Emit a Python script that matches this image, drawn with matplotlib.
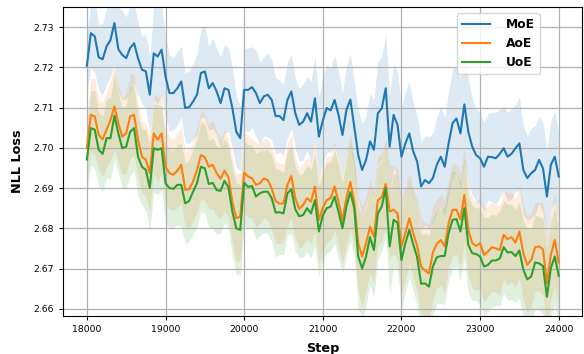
import numpy as np
import matplotlib
matplotlib.use('Agg')
import matplotlib.pyplot as plt

'''
NLL loss vs training step for MoE / AoE / UoE, mean with shaded spread
'''

steps = np.arange(18000, 24001, 50)

moe = [2.7204, 2.7285, 2.7277, 2.7225, 2.7220, 2.7252, 2.7268, 2.7310, 2.7245, 2.7231,
       2.7223, 2.7248, 2.7260, 2.7223, 2.7194, 2.7190, 2.7132, 2.7235, 2.7227, 2.7244,
       2.7177, 2.7136, 2.7136, 2.7148, 2.7165, 2.7099, 2.7101, 2.7115, 2.7132, 2.7186,
       2.7190, 2.7148, 2.7161, 2.7140, 2.7111, 2.7148, 2.7144, 2.7099, 2.7040, 2.7024,
       2.7144, 2.7144, 2.7151, 2.7136, 2.7111, 2.7128, 2.7132, 2.7119, 2.7079, 2.7079,
       2.7069, 2.7119, 2.7140, 2.7086, 2.7057, 2.7065, 2.7086, 2.7065, 2.7123, 2.7028,
       2.7068, 2.7099, 2.7093, 2.7119, 2.7082, 2.7032, 2.7094, 2.7120, 2.7053, 2.6982,
       2.6945, 2.6970, 2.7016, 2.6995, 2.7086, 2.7098, 2.7148, 2.7003, 2.7082, 2.7057,
       2.6978, 2.7011, 2.7036, 2.6991, 2.6966, 2.6904, 2.6920, 2.6912, 2.6925, 2.6958,
       2.6978, 2.6953, 2.7011, 2.7061, 2.7073, 2.7036, 2.7108, 2.7040, 2.7003, 2.6982,
       2.6974, 2.6953, 2.6978, 2.6977, 2.6974, 2.6985, 2.6999, 2.6978, 2.6985, 2.6999,
       2.7011, 2.6945, 2.6925, 2.6937, 2.6945, 2.6970, 2.6949, 2.6879, 2.6958, 2.6978,
       2.6929]

aoe = [2.6999, 2.7082, 2.7078, 2.7032, 2.7021, 2.7045, 2.7069, 2.7103, 2.7061, 2.7028,
       2.7036, 2.7078, 2.7082, 2.7020, 2.6978, 2.6970, 2.6937, 2.7036, 2.7020, 2.7036,
       2.6953, 2.6937, 2.6933, 2.6943, 2.6958, 2.6896, 2.6897, 2.6916, 2.6945, 2.6982,
       2.6977, 2.6953, 2.6958, 2.6937, 2.6923, 2.6943, 2.6927, 2.6866, 2.6825, 2.6829,
       2.6938, 2.6929, 2.6924, 2.6908, 2.6912, 2.6924, 2.6920, 2.6899, 2.6868, 2.6861,
       2.6862, 2.6908, 2.6930, 2.6875, 2.6848, 2.6858, 2.6875, 2.6866, 2.6904, 2.6821,
       2.6851, 2.6870, 2.6875, 2.6904, 2.6866, 2.6819, 2.6875, 2.6915, 2.6866, 2.6763,
       2.6730, 2.6763, 2.6804, 2.6779, 2.6870, 2.6877, 2.6910, 2.6842, 2.6846, 2.6837,
       2.6755, 2.6788, 2.6825, 2.6788, 2.6756, 2.6705, 2.6695, 2.6688, 2.6740, 2.6761,
       2.6771, 2.6755, 2.6813, 2.6846, 2.6846, 2.6822, 2.6883, 2.6796, 2.6763, 2.6756,
       2.6763, 2.6734, 2.6742, 2.6753, 2.6750, 2.6746, 2.6784, 2.6773, 2.6778, 2.6764,
       2.6792, 2.6738, 2.6709, 2.6721, 2.6753, 2.6755, 2.6748, 2.6663, 2.6734, 2.6771,
       2.6715]

uoe = [2.6971, 2.7049, 2.7045, 2.6995, 2.6985, 2.7024, 2.7024, 2.7080, 2.7036, 2.6999,
       2.7003, 2.7040, 2.7049, 2.6978, 2.6953, 2.6945, 2.6900, 2.6999, 2.6995, 2.6999,
       2.6912, 2.6900, 2.6898, 2.6908, 2.6908, 2.6862, 2.6868, 2.6891, 2.6912, 2.6953,
       2.6949, 2.6910, 2.6913, 2.6895, 2.6893, 2.6918, 2.6902, 2.6841, 2.6800, 2.6796,
       2.6913, 2.6903, 2.6905, 2.6879, 2.6887, 2.6891, 2.6891, 2.6875, 2.6839, 2.6840,
       2.6837, 2.6887, 2.6897, 2.6847, 2.6830, 2.6833, 2.6850, 2.6837, 2.6870, 2.6792,
       2.6832, 2.6850, 2.6854, 2.6879, 2.6841, 2.6800, 2.6854, 2.6890, 2.6850, 2.6730,
       2.6700, 2.6730, 2.6778, 2.6746, 2.6837, 2.6854, 2.6900, 2.6755, 2.6821, 2.6814,
       2.6721, 2.6763, 2.6796, 2.6760, 2.6728, 2.6662, 2.6663, 2.6655, 2.6705, 2.6728,
       2.6731, 2.6731, 2.6788, 2.6821, 2.6823, 2.6792, 2.6850, 2.6759, 2.6738, 2.6736,
       2.6730, 2.6705, 2.6709, 2.6720, 2.6720, 2.6725, 2.6753, 2.6740, 2.6741, 2.6731,
       2.6745, 2.6697, 2.6673, 2.6680, 2.6715, 2.6713, 2.6706, 2.6630, 2.6701, 2.6730,
       2.6682]

# spread of each run (half width of the shaded band)
moe_std = [0.0070, 0.0085, 0.0090, 0.0082, 0.0088, 0.0095, 0.0090, 0.0100, 0.0105, 0.0110,
           0.0102, 0.0108, 0.0100, 0.0090, 0.0085, 0.0092, 0.0095, 0.0115, 0.0120, 0.0110,
           0.0100, 0.0095, 0.0090, 0.0092, 0.0088, 0.0087, 0.0090, 0.0095, 0.0100, 0.0110,
           0.0115, 0.0105, 0.0112, 0.0108, 0.0115, 0.0110, 0.0105, 0.0100, 0.0090, 0.0080,
           0.0100, 0.0105, 0.0100, 0.0108, 0.0102, 0.0098, 0.0105, 0.0100, 0.0095, 0.0090,
           0.0088, 0.0095, 0.0092, 0.0087, 0.0090, 0.0095, 0.0092, 0.0100, 0.0105, 0.0100,
           0.0108, 0.0110, 0.0105, 0.0112, 0.0108, 0.0105, 0.0110, 0.0115, 0.0110, 0.0112,
           0.0115, 0.0110, 0.0120, 0.0125, 0.0130, 0.0128, 0.0135, 0.0130, 0.0128, 0.0132,
           0.0125, 0.0130, 0.0128, 0.0120, 0.0115, 0.0112, 0.0110, 0.0115, 0.0112, 0.0120,
           0.0125, 0.0122, 0.0128, 0.0135, 0.0130, 0.0138, 0.0140, 0.0130, 0.0120, 0.0115,
           0.0112, 0.0110, 0.0108, 0.0112, 0.0115, 0.0110, 0.0105, 0.0110, 0.0112, 0.0108,
           0.0115, 0.0110, 0.0105, 0.0112, 0.0110, 0.0108, 0.0112, 0.0115, 0.0110, 0.0112,
           0.0108]

aoe_std = [0.0080, 0.0090, 0.0095, 0.0088, 0.0092, 0.0095, 0.0100, 0.0105, 0.0098, 0.0095,
           0.0100, 0.0105, 0.0100, 0.0092, 0.0088, 0.0090, 0.0095, 0.0100, 0.0105, 0.0098,
           0.0092, 0.0090, 0.0088, 0.0092, 0.0095, 0.0095, 0.0098, 0.0100, 0.0105, 0.0110,
           0.0108, 0.0105, 0.0110, 0.0105, 0.0100, 0.0102, 0.0098, 0.0105, 0.0110, 0.0108,
           0.0100, 0.0102, 0.0098, 0.0105, 0.0100, 0.0098, 0.0102, 0.0100, 0.0105, 0.0100,
           0.0098, 0.0102, 0.0105, 0.0100, 0.0098, 0.0102, 0.0100, 0.0105, 0.0110, 0.0108,
           0.0105, 0.0108, 0.0105, 0.0110, 0.0112, 0.0108, 0.0115, 0.0118, 0.0112, 0.0120,
           0.0125, 0.0118, 0.0115, 0.0112, 0.0110, 0.0108, 0.0112, 0.0115, 0.0110, 0.0112,
           0.0118, 0.0115, 0.0112, 0.0110, 0.0115, 0.0118, 0.0120, 0.0122, 0.0115, 0.0110,
           0.0112, 0.0115, 0.0110, 0.0115, 0.0112, 0.0118, 0.0120, 0.0115, 0.0112, 0.0110,
           0.0115, 0.0118, 0.0112, 0.0110, 0.0108, 0.0112, 0.0110, 0.0115, 0.0112, 0.0110,
           0.0115, 0.0118, 0.0120, 0.0115, 0.0112, 0.0110, 0.0115, 0.0118, 0.0112, 0.0115,
           0.0112]

uoe_std = [0.0082, 0.0092, 0.0098, 0.0090, 0.0095, 0.0098, 0.0102, 0.0108, 0.0100, 0.0100,
           0.0105, 0.0110, 0.0105, 0.0098, 0.0095, 0.0100, 0.0108, 0.0110, 0.0112, 0.0105,
           0.0100, 0.0098, 0.0095, 0.0100, 0.0102, 0.0100, 0.0102, 0.0105, 0.0110, 0.0112,
           0.0110, 0.0108, 0.0112, 0.0110, 0.0105, 0.0105, 0.0102, 0.0110, 0.0115, 0.0112,
           0.0105, 0.0105, 0.0102, 0.0108, 0.0105, 0.0102, 0.0105, 0.0108, 0.0110, 0.0105,
           0.0102, 0.0105, 0.0110, 0.0105, 0.0102, 0.0105, 0.0108, 0.0110, 0.0115, 0.0112,
           0.0110, 0.0112, 0.0110, 0.0115, 0.0118, 0.0112, 0.0120, 0.0122, 0.0118, 0.0125,
           0.0130, 0.0122, 0.0118, 0.0118, 0.0115, 0.0112, 0.0118, 0.0120, 0.0115, 0.0118,
           0.0125, 0.0120, 0.0118, 0.0115, 0.0120, 0.0122, 0.0125, 0.0128, 0.0120, 0.0115,
           0.0118, 0.0120, 0.0115, 0.0120, 0.0118, 0.0122, 0.0125, 0.0120, 0.0118, 0.0115,
           0.0120, 0.0122, 0.0118, 0.0115, 0.0112, 0.0118, 0.0115, 0.0120, 0.0118, 0.0115,
           0.0120, 0.0122, 0.0125, 0.0120, 0.0118, 0.0115, 0.0120, 0.0122, 0.0118, 0.0120,
           0.0118]

labels = ['MoE', 'AoE', 'UoE']
colors = ['tab:blue', 'tab:orange', 'tab:green']

fig = plt.figure(figsize=(5.84, 3.54), dpi=100)
ax = fig.add_axes([0.1084, 0.1073, 0.8887, 0.8729])

for mean, std, label, color in zip([moe, aoe, uoe], [moe_std, aoe_std, uoe_std], labels, colors):
    mean = np.array(mean)
    std = np.array(std)
    ax.plot(steps, mean, color=color, linewidth=1.5, label=label)
    ax.fill_between(steps, mean - std, mean + std, color=color, alpha=0.15, linewidth=0)

ax.set_xlim(17700, 24300)
ax.set_ylim(2.6582, 2.7350)
ax.set_xticks(range(18000, 24001, 1000))
ax.set_yticks(np.arange(2.66, 2.7301, 0.01))
ax.yaxis.set_major_formatter(plt.FormatStrFormatter('%.2f'))
ax.tick_params(labelsize=6.7, length=3)
ax.grid(True, color='#b0b0b0', linewidth=0.9)

ax.set_xlabel('Step', fontsize=9.3, fontweight='bold', labelpad=6)
ax.set_ylabel('NLL Loss', fontsize=9.3, fontweight='bold', labelpad=7)

ax.legend(loc='upper right', bbox_to_anchor=(0.93, 1.0), prop={'weight': 'bold', 'size': 8.8},
          handletextpad=1.3, handlelength=2.3)

fig.savefig('out.png', dpi=100)
